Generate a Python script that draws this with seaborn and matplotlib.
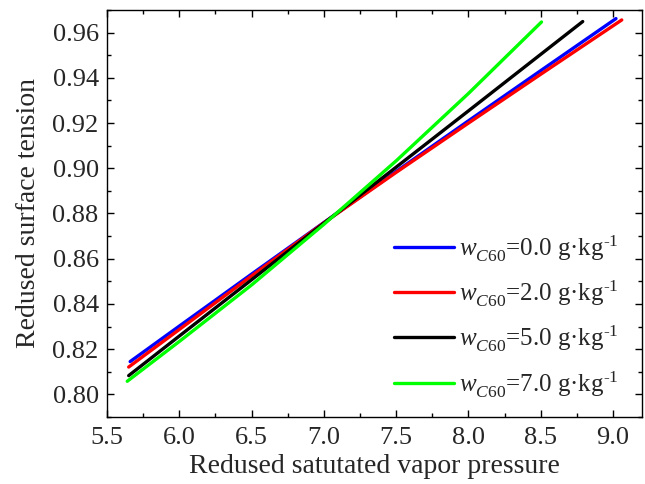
import matplotlib
matplotlib.use("Agg")
import matplotlib.pyplot as plt
import matplotlib._mathtext as mt
import seaborn as sns
import pandas as pd
from matplotlib.ticker import MultipleLocator, FormatStrFormatter

# Data
x_w00 = [5.66, 6.0, 6.5, 7.0, 7.5, 8.0, 8.5, 9.02]
y_w00 = [0.8145, 0.8302, 0.8532, 0.8760, 0.8986, 0.9210, 0.9432, 0.9662]

x_w20 = [5.65, 6.0, 6.5, 7.0, 7.5, 8.0, 8.5, 9.06]
y_w20 = [0.8121, 0.8287, 0.8524, 0.8759, 0.8982, 0.9200, 0.9416, 0.9656]

x_w50 = [5.65, 6.0, 6.5, 7.0, 7.5, 8.0, 8.5, 8.79]
y_w50 = [0.8083, 0.8258, 0.8507, 0.8757, 0.9005, 0.9254, 0.9504, 0.9649]

x_w70 = [5.64, 6.0, 6.5, 7.0, 7.5, 8.0, 8.505]
y_w70 = [0.8058, 0.8234, 0.8484, 0.8752, 0.9033, 0.9331, 0.9647]

labels = [r"$\mathit{w}_{\mathit{C60}}$=0.0 g·kg$^{\text{-1}}$",
          r"$\mathit{w}_{\mathit{C60}}$=2.0 g·kg$^{\text{-1}}$",
          r"$\mathit{w}_{\mathit{C60}}$=5.0 g·kg$^{\text{-1}}$",
          r"$\mathit{w}_{\mathit{C60}}$=7.0 g·kg$^{\text{-1}}$"]
colors = ["#0000ff", "#ff0000", "#000000", "#00ff00"]

# deeper subscripts, as in the reference
try:
    mt.FontConstantsBase.sub1 = 0.5
    mt.FontConstantsBase.sub2 = 0.6
except Exception:
    pass

sns.set_style("ticks")
plt.rcParams["font.family"] = ["Liberation Serif", "DejaVu Serif"]
plt.rcParams["mathtext.fontset"] = "custom"
plt.rcParams["mathtext.rm"] = "Liberation Serif"
plt.rcParams["mathtext.it"] = "Liberation Serif:italic"

fig = plt.figure(figsize=(6.45, 4.84), dpi=100)
ax = fig.add_axes([107/645, 67/484, 535/645, 407/484])

series = [(x_w00, y_w00), (x_w20, y_w20), (x_w50, y_w50), (x_w70, y_w70)]
for (xs, ys), lab, col in zip(series, labels, colors):
    df = pd.DataFrame({"x": xs, "y": ys})
    sns.lineplot(data=df, x="x", y="y", color=col, lw=2.4, label=lab, ax=ax,
                 sort=False)

ax.set_xlim(5.5, 9.2)
ax.set_ylim(0.79, 0.97)
ax.xaxis.set_major_locator(MultipleLocator(0.5))
ax.xaxis.set_minor_locator(MultipleLocator(0.25))
ax.yaxis.set_major_locator(MultipleLocator(0.02))
ax.yaxis.set_minor_locator(MultipleLocator(0.01))
ax.xaxis.set_major_formatter(FormatStrFormatter("%.1f"))
ax.yaxis.set_major_formatter(FormatStrFormatter("%.2f"))
ax.tick_params(which="both", direction="in", top=True, right=True,
               labeltop=False, labelright=False, width=1.0, color="black")
ax.tick_params(which="major", length=5, labelsize=19)
ax.tick_params(which="minor", length=3)
ax.tick_params(axis="y", which="major", pad=6)
ax.tick_params(axis="x", which="major", pad=7)
for s in ax.spines.values():
    s.set_linewidth(1.0)
    s.set_color("black")

ax.set_xlabel("Redused satutated vapor pressure", fontsize=20, labelpad=4)
ax.set_ylabel("Redused surface tension", fontsize=20, labelpad=8)

ax.legend(loc="lower right", frameon=False, fontsize=18, handlelength=2.4,
          labelspacing=0.6, handletextpad=0.2, borderaxespad=0.3,
          bbox_to_anchor=(0.99, 0.0))

fig.savefig("out.png", dpi=100)
